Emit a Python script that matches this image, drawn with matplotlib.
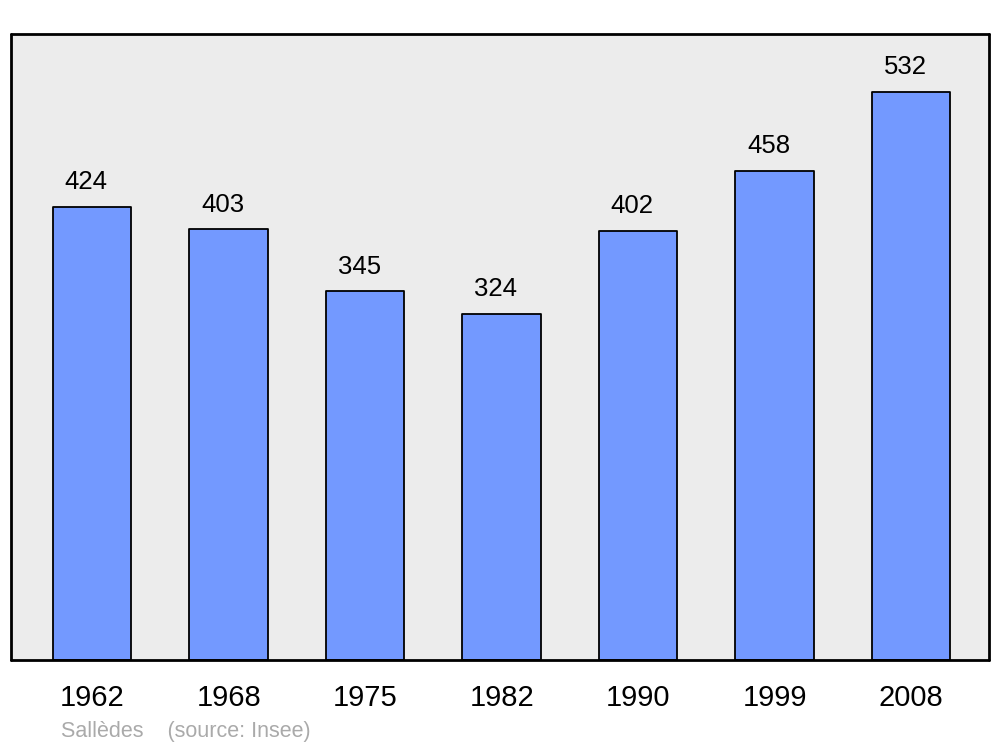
import numpy as np
import matplotlib.pyplot as plt

years = ['1962', '1968', '1975', '1982', '1990', '1999', '2008']
population = [424, 403, 345, 324, 402, 458, 532]

plt.rcParams['font.family'] = ['Liberation Sans', 'DejaVu Sans']

fig = plt.figure(figsize=(10, 7.47), dpi=100)
ax = fig.add_axes([0.011, 1 - 660 / 747, 0.978, 626 / 747])
ax.set_facecolor('#ececec')

x = np.arange(len(years))
bars = ax.bar(x, population, width=0.575, color='#7399ff', edgecolor='black',
              linewidth=1.3, zorder=2)
for b in bars:
    b.set_joinstyle('round')

for xi, v in zip(x, population):
    ax.text(xi - 0.045, v + 12, str(v), ha='center', va='bottom', fontsize=18.5)

ax.set_xlim(-0.595, 6.57)
ax.set_ylim(0, 586)
ax.set_yticks([])
ax.set_xticks(x)
ax.set_xticklabels(years, fontsize=21)
ax.tick_params(axis='x', length=0, pad=17)
for s in ax.spines.values():
    s.set_linewidth(2)
    s.set_capstyle('round')
    s.set_joinstyle('round')

fig.text(0.061, 0.007, 'Sallèdes    (source: Insee)', fontsize=15.5,
         color='#aaaaaa', ha='left', va='bottom')

fig.savefig('out.png', dpi=100)
